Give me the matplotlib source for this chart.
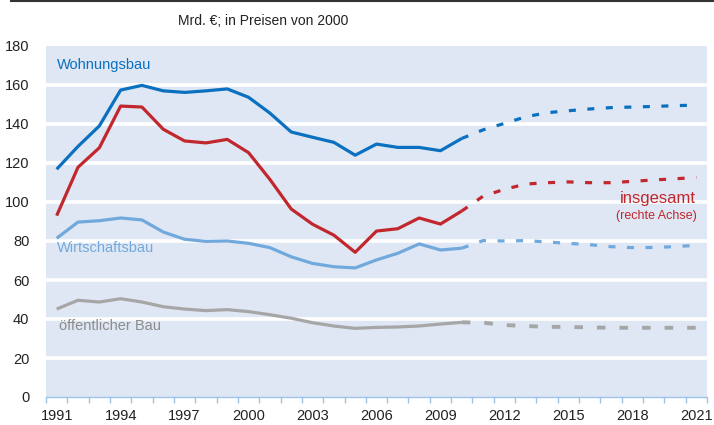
import numpy as np
import matplotlib
matplotlib.use("Agg")
import matplotlib.pyplot as plt
from matplotlib.lines import Line2D

plt.rcParams['font.family'] = ['Liberation Sans', 'DejaVu Sans']

# years on a category axis, 1991..2021
years = list(range(1991, 2022))
tick_years = list(range(1991, 2022, 3))
y_ticks = [0, 20, 40, 60, 80, 100, 120, 140, 160, 180]

# actual values 1991-2010, forecast 2010-2021 (2010 is in both)
wohnungsbau = [116.8, 128.5, 139.0, 157.4, 159.8, 157.0, 156.2, 157.0, 158.0, 153.7,
               145.6, 135.9, 133.2, 130.6, 124.0, 129.7, 128.0, 128.0, 126.3, 132.6]
wohnungsbau_prog = [132.6, 137.0, 140.3, 143.7, 145.8, 146.8, 147.7, 148.4, 148.7, 149.0, 149.4, 149.7]

insgesamt = [93.0, 117.8, 127.8, 149.2, 148.7, 137.3, 131.3, 130.3, 132.1, 125.3,
             111.6, 96.4, 88.6, 83.0, 74.2, 85.1, 86.3, 91.8, 88.7, 95.4]
insgesamt_prog = [95.4, 103.0, 106.5, 109.2, 109.9, 110.3, 109.9, 109.9, 110.6, 111.3, 111.9, 112.6]

wirtschaftsbau = [81.4, 89.7, 90.4, 91.8, 90.8, 84.6, 80.9, 79.8, 80.0, 78.8,
                  76.6, 71.9, 68.5, 66.8, 66.2, 70.3, 73.7, 78.5, 75.4, 76.3]
wirtschaftsbau_prog = [76.3, 80.2, 80.0, 80.2, 79.5, 78.8, 78.1, 77.1, 76.6, 76.7, 77.1, 77.8]

oeffentlich = [45.1, 49.6, 48.7, 50.4, 48.7, 46.3, 45.1, 44.3, 44.8, 43.8,
               42.2, 40.4, 38.1, 36.4, 35.2, 35.7, 35.9, 36.4, 37.4, 38.3]
oeffentlich_prog = [38.3, 38.1, 36.9, 36.4, 36.0, 35.9, 35.7, 35.5, 35.5, 35.5, 35.5, 35.5]

c_wohn = "#0a70bf"
c_ges = "#c1272d"
c_wirt = "#72a9dc"
c_oeff = "#a6a6a6"
bg = "#dfe7f4"

fig = plt.figure(figsize=(7.14, 4.25), dpi=100)
ax = fig.add_axes([46 / 714, 28 / 425, 661 / 714, 351 / 425])
ax.set_facecolor(bg)

x_hist = np.arange(20)
x_prog = np.arange(19, 31)
dash = (0, (2.2, 3.6))

series = [
    (wohnungsbau, wohnungsbau_prog, c_wohn, 2.3),
    (insgesamt, insgesamt_prog, c_ges, 2.3),
    (wirtschaftsbau, wirtschaftsbau_prog, c_wirt, 2.3),
    (oeffentlich, oeffentlich_prog, c_oeff, 2.8),
]
for hist, prog, col, lw in series:
    ax.plot(x_hist, hist, color=col, lw=2.3, solid_capstyle='butt', zorder=3)
    ax.plot(x_prog, prog, color=col, lw=lw, linestyle=dash, zorder=3)

ax.set_xlim(-0.5, 30.5)
ax.set_ylim(0, 180)
ax.set_yticks(y_ticks)
ax.tick_params(axis='y', length=0, pad=12, labelsize=10.5, colors="#222222")
for v in y_ticks[1:-1]:
    ax.axhline(v, color="white", lw=2.6, zorder=1)

ax.set_xticks([years.index(y) for y in tick_years])
ax.set_xticklabels([str(y) for y in tick_years])
ax.set_xticks(np.arange(-0.5, 31, 1), minor=True)
ax.tick_params(axis='x', which='major', length=0, pad=9, labelsize=10.5, colors="#222222")
ax.tick_params(axis='x', which='minor', length=4, width=1, color="#9dc3e6", direction='out')

for s in ['top', 'right', 'left']:
    ax.spines[s].set_visible(False)
ax.spines['bottom'].set_color("#9dc3e6")
ax.spines['bottom'].set_linewidth(1)

# series labels
ax.text(0.0, 170.5, "Wohnungsbau", color=c_wohn, fontsize=10.5, va='center', ha='left')
ax.text(0.0, 76.5, "Wirtschaftsbau", color=c_wirt, fontsize=10.5, va='center', ha='left')
ax.text(0.1, 36.5, "öffentlicher Bau", color="#8c8c8c", fontsize=10.5, va='center', ha='left')
ax.text(30.0, 102, "insgesamt", color=c_ges, fontsize=12, va='center', ha='right')
ax.text(30.0, 93, "(rechte Achse)", color=c_ges, fontsize=9, va='center', ha='right')

fig.text(263 / 714, 1 - 21 / 425, "Mrd. €; in Preisen von 2000", ha='center', va='center',
         fontsize=10, color="#222222")
fig.add_artist(Line2D([11 / 714, 1], [1 - 1 / 425, 1 - 1 / 425], color="#333333", lw=1.5,
                      transform=fig.transFigure))

fig.savefig("out.png", dpi=100)
